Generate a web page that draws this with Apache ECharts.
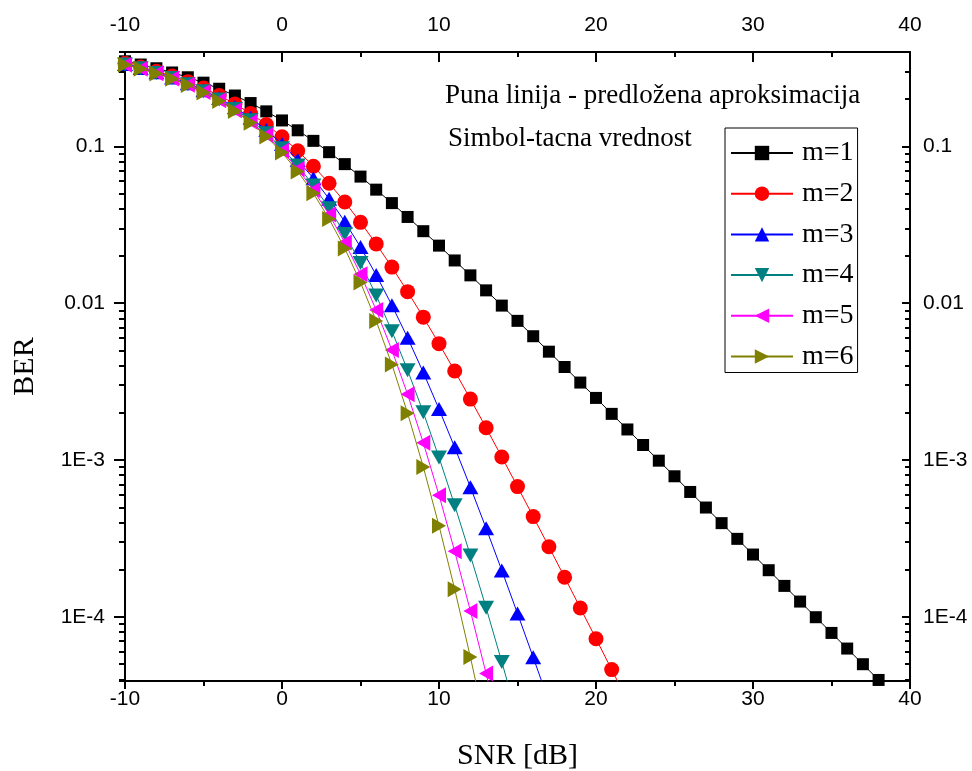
<!DOCTYPE html>
<html><head><meta charset="utf-8">
<script src="https://cdn.jsdelivr.net/npm/echarts@6/dist/echarts.min.js"></script>
<style>html,body{margin:0;padding:0;background:#fff}#c{width:972px;height:771px}</style>
</head><body><div id="c"></div>
<script>
// SNR [dB] positions of the markers
const snrDb = [-10,-9,-8,-7,-6,-5,-4,-3,-2,-1,0,1,2,3,4,5,6,7,8,9,10,11,12,13,14,15,16,17,18,19,20,21,22,23,24,25,26,27,28,29,30,31,32,33,34,35,36,37,38];
const seriesNames = ['m=1','m=2','m=3','m=4','m=5','m=6'];
// BER values
const berM1 = [0.349,0.3328,0.3151,0.2961,0.2760,0.2550,0.2332,0.2111,0.1890,0.1673,0.1464,0.1267,0.1085,0.0919,0.0771,0.0642,0.0530,0.0435,0.0355,0.0288,0.0233,0.01874,0.01506,0.01208,0.00966,0.00772,0.00616,0.00491,0.00392,0.00312,0.00249,0.00197,0.001567,0.001247,0.000991,0.000788,0.000626,0.000498,0.000396,0.0003144,0.0002497,0.0001984,0.0001576,0.0001252,0.0000995,0.0000790,0.0000628,0.0000499,0.0000396];
const berM2 = [0.3389,0.3211,0.3017,0.2809,0.2588,0.2355,0.2114,0.1867,0.1621,0.1380,0.1151,0.0939,0.0748,0.0582,0.0442,0.0328,0.0239,0.0170,0.01185,0.008152,0.005525,0.003697,0.002448,0.001606,0.001046,0.000677,0.000436,0.00028,0.000179,0.000114,0.0000726,0.0000461];
const berM3 = [0.3352,0.3168,0.2969,0.2755,0.2525,0.2284,0.2033,0.1777,0.1521,0.1272,0.1035,0.0818,0.0626,0.0463,0.0331,0.0228,0.01514,0.009706,0.006018,0.003618,0.002114,0.0012046,0.0006716,0.0003674,0.0001979,0.0001051,0.00005525];
const berM4 = [0.3333,0.3147,0.2944,0.2726,0.2493,0.2247,0.1991,0.1730,0.1469,0.1215,0.0975,0.0756,0.0564,0.0404,0.02766,0.01805,0.011216,0.006637,0.003741,0.0020145,0.0010386,0.0005148,0.0002463,0.00011426,0.00005161];
const berM5 = [0.3321,0.3133,0.2929,0.2709,0.2473,0.2225,0.1966,0.1702,0.1437,0.1181,0.0938,0.0718,0.0527,0.0368,0.0244,0.01532,0.009053,0.005029,0.002624,0.001288,0.0005967,0.0002617,0.00010915,0.00004356];
const berM6 = [0.3313,0.3125,0.2919,0.2697,0.2460,0.2210,0.1949,0.1683,0.1416,0.1157,0.0914,0.0693,0.0502,0.0345,0.02236,0.01357,0.007707,0.004066,0.00199,0.0009036,0.0003814,0.00015016,0.0000554];
// approximation line continues one step past the last marker (runs off the bottom)
const lineTail = [null,0.0000293,0.00002876,0.0000228,0.0000167,0.0000192];
const yTickLabels = {'-1':'0.1','-2':'0.01','-3':'1E-3','-4':'1E-4'};
const yMin = 3.9e-5, yMax = 0.4;
// minor ticks of the log axes sit at k x 10^n
const minorFactors = [2,3,4,5,6,7,8,9];

const allBer = [berM1,berM2,berM3,berM4,berM5,berM6];
const colors = ['#000000','#ff0000','#0000ff','#008080','#ff00ff','#808000'];
const symbols = ['rect','circle','triangle','triangle','triangle','triangle'];
const symSizes = [12,15,[16,14],[16,14],[16,14],[16,14]];
const symRot = [0,0,0,180,90,-90];

const series = allBer.map((vals,k)=>{
  const data = vals.map((v,i)=>[snrDb[i], v]);
  if (lineTail[k] != null) data.push({value:[snrDb[vals.length], lineTail[k]], symbol:'none'});
  return {
    name: seriesNames[k], type:'line', data,
    symbol: symbols[k], symbolSize: symSizes[k], symbolRotate: symRot[k],
    showAllSymbol:true, clip:true,
    lineStyle:{color:colors[k], width:1},
    itemStyle:{color:colors[k], borderWidth:0},
    emphasis:{disabled:true}, z: 2+k
  };
});

const labFont = {fontFamily:'Liberation Sans', fontSize:21, color:'#000'};
const axLine = {show:true, onZero:false, lineStyle:{color:'#000', width:2}};
const yFmt = v => { const e = Math.round(Math.log10(v)); return yTickLabels[String(e)] || ''; };

const yAxes = [{
    type:'log', min:yMin, max:yMax, position:'left',
    axisLine:axLine, splitLine:{show:false},
    axisTick:{inside:false, length:11, lineStyle:{color:'#000', width:2}},
    axisLabel:Object.assign({margin:20, formatter:yFmt, showMinLabel:false, showMaxLabel:false}, labFont),
    name:'BER', nameLocation:'middle', nameGap:85,
    nameTextStyle:{fontFamily:'Liberation Serif', fontSize:30, color:'#000'}
  },{
    type:'log', min:yMin, max:yMax, position:'right',
    axisLine:axLine, splitLine:{show:false},
    axisTick:{inside:true, length:8, lineStyle:{color:'#000', width:2}},
    axisLabel:Object.assign({margin:13, formatter:yFmt, showMinLabel:false, showMaxLabel:false}, labFont)
  }];
// tick-only log axes whose decade ticks fall on k x 10^n of the main scale
minorFactors.forEach(k=>{
  ['left','right'].forEach(pos=>{
    yAxes.push({
      type:'log', min:yMin/k, max:yMax/k, position:pos, silent:true,
      axisLine:{show:false, onZero:false}, axisLabel:{show:false}, splitLine:{show:false},
      axisTick:{show:true, inside:pos==='right', length:pos==='left'?6:5, lineStyle:{color:'#000', width:2}}
    });
  });
});

const chart = echarts.init(document.getElementById('c'), null, {renderer:'canvas'});
chart.setOption({
  animation:false,
  backgroundColor:'#fff',
  grid:{left:125, right:62, top:52, bottom:90, containLabel:false, outerBoundsMode:'none'},
  xAxis:[{
    type:'value', min:-10, max:40, interval:10, position:'bottom',
    axisLine:axLine, splitLine:{show:false},
    axisTick:{inside:false, length:8, lineStyle:{color:'#000', width:2}},
    minorTick:{show:true, splitNumber:2, length:5, lineStyle:{color:'#000', width:2}},
    axisLabel:Object.assign({margin:8}, labFont),
    name:'SNR [dB]', nameLocation:'middle', nameGap:60,
    nameTextStyle:{fontFamily:'Liberation Serif', fontSize:30, color:'#000'}
  },{
    type:'value', min:-10, max:40, interval:10, position:'top',
    axisLine:axLine, splitLine:{show:false},
    axisTick:{inside:true, length:10, lineStyle:{color:'#000', width:2}},
    minorTick:{show:true, splitNumber:2, length:5, lineStyle:{color:'#000', width:2}},
    axisLabel:Object.assign({margin:16}, labFont)
  }],
  yAxis:yAxes,
  legend:{
    data:seriesNames, orient:'vertical', left:725, top:128,
    itemWidth:62, itemHeight:18, itemGap:10.7,
    padding:[10,4,1,5], borderColor:'#000', borderWidth:1,
    textStyle:{fontFamily:'Liberation Serif', fontSize:28, lineHeight:30, color:'#000', padding:[0,0,0,4]},
    selectedMode:false
  },
  graphic:[
    {type:'text', left:445, top:82, style:{text:'Puna linija - predložena aproksimacija', font:'27px "Liberation Serif"', fill:'#000'}},
    {type:'text', left:448, top:125, style:{text:'Simbol-tacna vrednost', font:'27px "Liberation Serif"', fill:'#000'}}
  ],
  series
});
</script></body></html>
